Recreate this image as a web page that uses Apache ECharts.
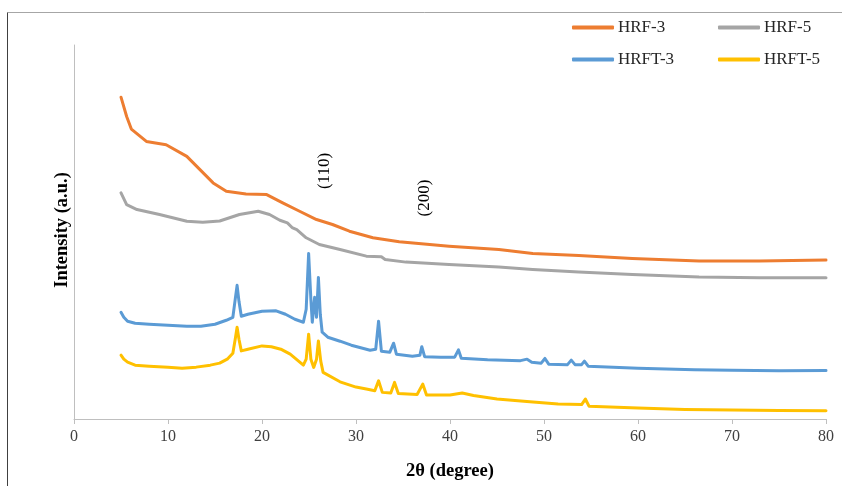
<!DOCTYPE html>
<html><head><meta charset="utf-8">
<script src="https://cdn.jsdelivr.net/npm/echarts@6/dist/echarts.min.js"></script>
<style>html,body{margin:0;padding:0;background:#fff}#c{width:842px;height:486px}</style>
</head><body><div id="c"></div>
<script>
const xTicks = [0,10,20,30,40,50,60,70,80];
const seriesNames = ['HRF-3','HRF-5','HRFT-3','HRFT-5'];

const hrf3X = [5.0,5.6,6.1,7.7,9.8,12.0,13.4,14.8,16.2,18.3,20.5,22.2,24.0,25.8,27.5,29.3,31.8,34.6,39.9,45.2,48.8,53.7,59.4,66.5,72.9,80];
const hrf3Y = [322.7,303.3,290.7,278.3,275,263.3,250,236.7,228.3,225.7,225,216.7,208.3,200,195,188.3,181.7,177.7,173.3,170,166,164,161,158.3,158.5,159.5];

const hrf5X = [5.0,5.6,6.7,9.1,12.0,13.7,15.5,17.6,19.6,20.8,21.9,22.7,23.2,23.7,24.7,26.1,28.3,31.1,32.7,33.1,35.3,39.9,45.2,48.8,53.7,59.4,66.5,72.9,80];
const hrf5Y = [226.7,215,210,205,198.3,197.3,198.5,205,208.3,205,199.3,196.7,192,190,181.7,175,170,163.3,162.7,160,157.3,155,152.5,150,147.5,145,142.5,141.7,141.7];

const hrft3X = [5.0,5.3,5.7,6.5,8,10,12,13.5,15,16.2,16.9,17.15,17.35,17.55,17.8,18.5,20,21.5,22.5,23.5,24.4,24.7,24.96,25.2,25.35,25.6,25.8,26.0,26.2,26.4,27.0,28.3,29.5,31.5,32.1,32.4,32.7,33.6,34.0,34.3,36.0,36.8,37.0,37.3,39,40.5,40.9,41.2,44,47.5,48.2,48.7,49.7,50.1,50.5,52.5,52.9,53.3,54.0,54.3,54.7,60,66,70,75,80];
const hrft3Y = [107,102,98,96,95,94,93,93,95,99,102,120,134,118,103,105,108,108.5,105,100,97,110,166,120,97,122,102,142,105,87,82,78,74,69,70,98,68,67,76,65,63,64,72.5,62.5,62,62,69.3,61,59.5,58.5,60,57,56,60.7,55,54.5,59,54.5,54.5,58,53,51,49.3,49,48.5,48.7];

const hrft5X = [5.0,5.3,5.7,6.5,8,10,11.5,13,14.5,15.5,16.3,16.9,17.15,17.35,17.55,17.8,18.5,20.0,21.0,22.0,23.0,24.4,24.7,24.96,25.2,25.5,25.8,26.0,26.25,26.5,28.3,30,31.1,32.0,32.4,32.8,33.7,34.1,34.5,36.5,37.1,37.5,40,41.3,42.5,45,48.5,51.5,54.0,54.4,54.8,60,65,70,75,80];
const hrft5Y = [64,60,57,54,53,52,51,52,54,56,60,66,80,92,80,68.3,70,73.3,72.5,70,65,54,60,85,60,51.7,60,78.3,58,46.7,37.3,32,30,28.3,38.3,26.7,26,36.7,25.5,24.5,35,24,24,26,23.5,20,17.3,15,14.5,20,12.7,11,9.5,9,8.5,8.3];

const colors = ['#ED7D31','#A5A5A5','#5B9BD5','#FFC000'];
const xs = [hrf3X,hrf5X,hrft3X,hrft5X];
const ys = [hrf3Y,hrf5Y,hrft3Y,hrft5Y];

const serif = '"Liberation Serif","Times New Roman",serif';
const chart = echarts.init(document.getElementById('c'));

const series = seriesNames.map((n,i)=>({
  name:n, type:'line', showSymbol:false, symbol:'none', smooth:false,
  data: xs[i].map((x,k)=>[x, ys[i][k]]),
  lineStyle:{color:colors[i], width:3, cap:'round', join:'round'},
  itemStyle:{color:colors[i]}, z: 10-i
}));

const legendPos = [[572,19],[718,19],[572,51],[718,51]];
const legends = seriesNames.map((n,i)=>({
  data:[n], left:legendPos[i][0], top:legendPos[i][1],
  icon:'roundRect', itemWidth:42, itemHeight:4, itemGap:0,
  textStyle:{fontFamily:serif, fontSize:17, color:'#262626', padding:[0,0,0,-1]},
  padding:0, selectedMode:false
}));

chart.setOption({
  animation:false,
  backgroundColor:'#fff',
  grid:{left:74, right:16, top:45, bottom:66},
  legend: legends,
  xAxis:{
    type:'value', min:xTicks[0], max:xTicks[xTicks.length-1], interval:10,
    axisLine:{show:true, onZero:false, lineStyle:{color:'#bfbfbf', width:1}},
    axisTick:{show:true, length:5, lineStyle:{color:'#bfbfbf'}},
    axisLabel:{fontFamily:serif, fontSize:16, color:'#404040', margin:10},
    splitLine:{show:false},
    name:'2θ (degree)', nameLocation:'middle', nameGap:43,
    nameTextStyle:{fontFamily:serif, fontSize:18.5, fontWeight:'bold', color:'#000'}
  },
  yAxis:{
    type:'value', min:0, max:375,
    axisLine:{show:true, lineStyle:{color:'#bfbfbf', width:1}},
    axisTick:{show:false}, axisLabel:{show:false}, splitLine:{show:false}
  },
  series: series,
  graphic:[
    {type:'line', shape:{x1:7.5,y1:12.5,x2:842,y2:12.5}, style:{stroke:'#a6a6a6', lineWidth:1}},
    {type:'line', shape:{x1:7.5,y1:12.5,x2:7.5,y2:486}, style:{stroke:'#404040', lineWidth:1}},
    {type:'text', x:62, y:230, rotation:Math.PI/2,
      style:{text:'Intensity (a.u.)', fontFamily:serif, fontSize:18.5, fontWeight:'bold', fill:'#000', align:'center', verticalAlign:'middle'}},
    {type:'text', x:325, y:171, rotation:Math.PI/2,
      style:{text:'(110)', fontFamily:serif, fontSize:17, fill:'#000', align:'center', verticalAlign:'middle'}},
    {type:'text', x:425, y:198, rotation:Math.PI/2,
      style:{text:'(200)', fontFamily:serif, fontSize:17, fill:'#000', align:'center', verticalAlign:'middle'}}
  ]
});
</script></body></html>
